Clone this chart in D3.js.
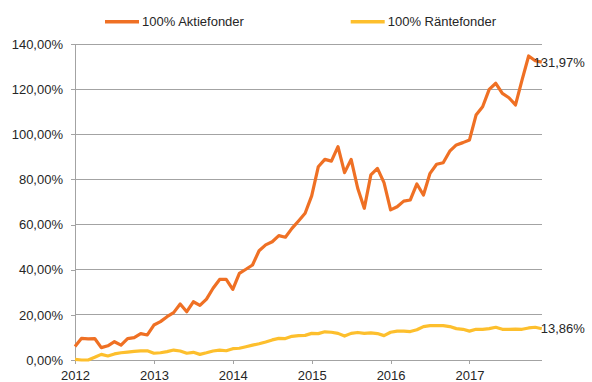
<!DOCTYPE html>
<html>
<head>
<meta charset="utf-8">
<script src="https://cdn.jsdelivr.net/npm/d3@7/dist/d3.min.js"></script>
<style>
  html, body { margin: 0; padding: 0; background: #fff; }
  svg { display: block; font-family: "Liberation Sans", Arial, sans-serif; }
</style>
</head>
<body>
<svg id="chart" width="592" height="382"></svg>
<script>
// Monthly cumulative return (%), Jan 2012 – Dec 2017
const seriesNames = ["100% Aktiefonder", "100% Räntefonder"];
const seriesColors = ["#EF7024", "#FDBF2D"];

const aktiefonder = [
  6.0, 9.6, 9.4, 9.5, 5.5, 6.3, 8.1, 6.6, 9.5, 9.9, 11.7, 11.1,
  15.5, 17.0, 19.2, 21.0, 24.8, 21.4, 25.8, 24.2, 27.0, 31.8, 35.7, 35.7,
  31.3, 38.4, 40.2, 42.1, 48.4, 51.0, 52.4, 55.1, 54.4, 58.3, 61.6, 65.0,
  72.7, 85.6, 88.9, 88.1, 94.5, 83.0, 88.9, 76.1, 67.2, 82.0, 84.9, 78.6,
  66.5, 67.9, 70.4, 70.9, 78.0, 73.1, 82.7, 86.7, 87.4, 92.5, 95.3, 96.3,
  97.5, 108.5, 112.2, 119.9, 122.6, 118.1, 116.2, 113.0, 124.1, 134.7, 132.6, 131.97
];

const rantefonder = [
  0.3, 0.0, 0.0, 1.2, 2.5, 1.8, 2.7, 3.2, 3.5, 3.8, 4.0, 4.1,
  3.0, 3.2, 3.7, 4.4, 4.0, 3.0, 3.4, 2.5, 3.2, 4.0, 4.4, 4.1,
  5.0, 5.2, 5.9, 6.6, 7.2, 8.0, 8.9, 9.6, 9.5, 10.5, 10.8, 10.9,
  11.8, 11.7, 12.5, 12.3, 11.8, 10.6, 11.8, 12.2, 11.8, 12.0, 11.7, 10.8,
  12.3, 12.8, 12.8, 12.6, 13.4, 14.8, 15.2, 15.2, 15.2, 14.8, 13.9, 13.6,
  12.8, 13.6, 13.6, 13.9, 14.5, 13.6, 13.6, 13.7, 13.6, 14.2, 14.5, 13.86
];

const yearLabels = ["2012", "2013", "2014", "2015", "2016", "2017"];
const yTicks = [0, 20, 40, 60, 80, 100, 120, 140];

const svg = d3.select("#chart");
const textColor = "#262626";
const gridColor = "#A3A3A3";
const fontSize = 13;

const plotLeft = 75, plotRight = 541.8, plotTop = 44, plotBottom = 360;

const x = d3.scaleLinear().domain([0, aktiefonder.length - 1]).range([plotLeft, plotRight]);
const y = d3.scaleLinear().domain([0, 140]).range([plotBottom, plotTop]);

const sv = d3.formatLocale({ decimal: ",", thousands: " ", grouping: [3], currency: ["", " kr"] });
const pct = v => sv.format(".2f")(v) + "%";

// horizontal gridlines
svg.append("g")
  .selectAll("line")
  .data(yTicks.filter(d => d > 0))
  .join("line")
  .attr("x1", plotLeft).attr("x2", plotRight)
  .attr("y1", d => y(d)).attr("y2", d => y(d))
  .attr("stroke", gridColor).attr("stroke-width", 1)
  .attr("shape-rendering", "crispEdges");

// y axis
const yAxis = svg.append("g")
  .attr("transform", `translate(${plotLeft},0)`)
  .call(d3.axisLeft(y).tickValues(yTicks).tickFormat(pct).tickSize(4).tickPadding(8));
yAxis.select(".domain").attr("stroke", gridColor).attr("d", `M0,${plotTop}V${plotBottom}`);

// x axis
const xAxis = svg.append("g")
  .attr("transform", `translate(0,${plotBottom})`)
  .call(d3.axisBottom(x)
    .tickValues(yearLabels.map((_, i) => i * 12))
    .tickFormat((d, i) => yearLabels[i])
    .tickSize(4).tickPadding(7));
xAxis.select(".domain").attr("stroke", gridColor).attr("d", `M${plotLeft},0H${plotRight}`);

[yAxis, xAxis].forEach(g => {
  g.selectAll(".tick line").attr("stroke", gridColor).attr("shape-rendering", "crispEdges");
  g.selectAll(".tick text").attr("fill", textColor)
    .style("font-size", fontSize + "px").style("font-family", "'Liberation Sans', Arial, sans-serif");
  g.select(".domain").attr("shape-rendering", "crispEdges");
});

// series lines
const line = d3.line().x((d, i) => x(i)).y(d => y(d));
const allSeries = [aktiefonder, rantefonder];

// draw yellow first so the orange line stays on top
[1, 0].forEach(k => {
  svg.append("path")
    .datum(allSeries[k])
    .attr("d", line)
    .attr("fill", "none")
    .attr("stroke", seriesColors[k])
    .attr("stroke-width", 3.2)
    .attr("stroke-linejoin", "round")
    .attr("stroke-linecap", "butt");
});

// end labels
allSeries.forEach((s, k) => {
  const last = s.length - 1;
  svg.append("text")
    .attr("x", x(last) + 43)
    .attr("y", y(s[last]))
    .attr("dy", "0.35em")
    .attr("text-anchor", "end")
    .attr("fill", textColor)
    .style("font-size", fontSize + "px")
    .text(pct(s[last]));
});

// legend
const legendX = [105, 350.7];
const legendY = 21.8;
const legend = svg.append("g");
seriesNames.forEach((name, k) => {
  legend.append("line")
    .attr("x1", legendX[k]).attr("x2", legendX[k] + 34)
    .attr("y1", legendY).attr("y2", legendY)
    .attr("stroke", seriesColors[k]).attr("stroke-width", 3.5);
  legend.append("text")
    .attr("x", legendX[k] + 37)
    .attr("y", legendY)
    .attr("dy", "0.35em")
    .attr("fill", textColor)
    .style("font-size", fontSize + "px")
    .text(name);
});
</script>
</body>
</html>
